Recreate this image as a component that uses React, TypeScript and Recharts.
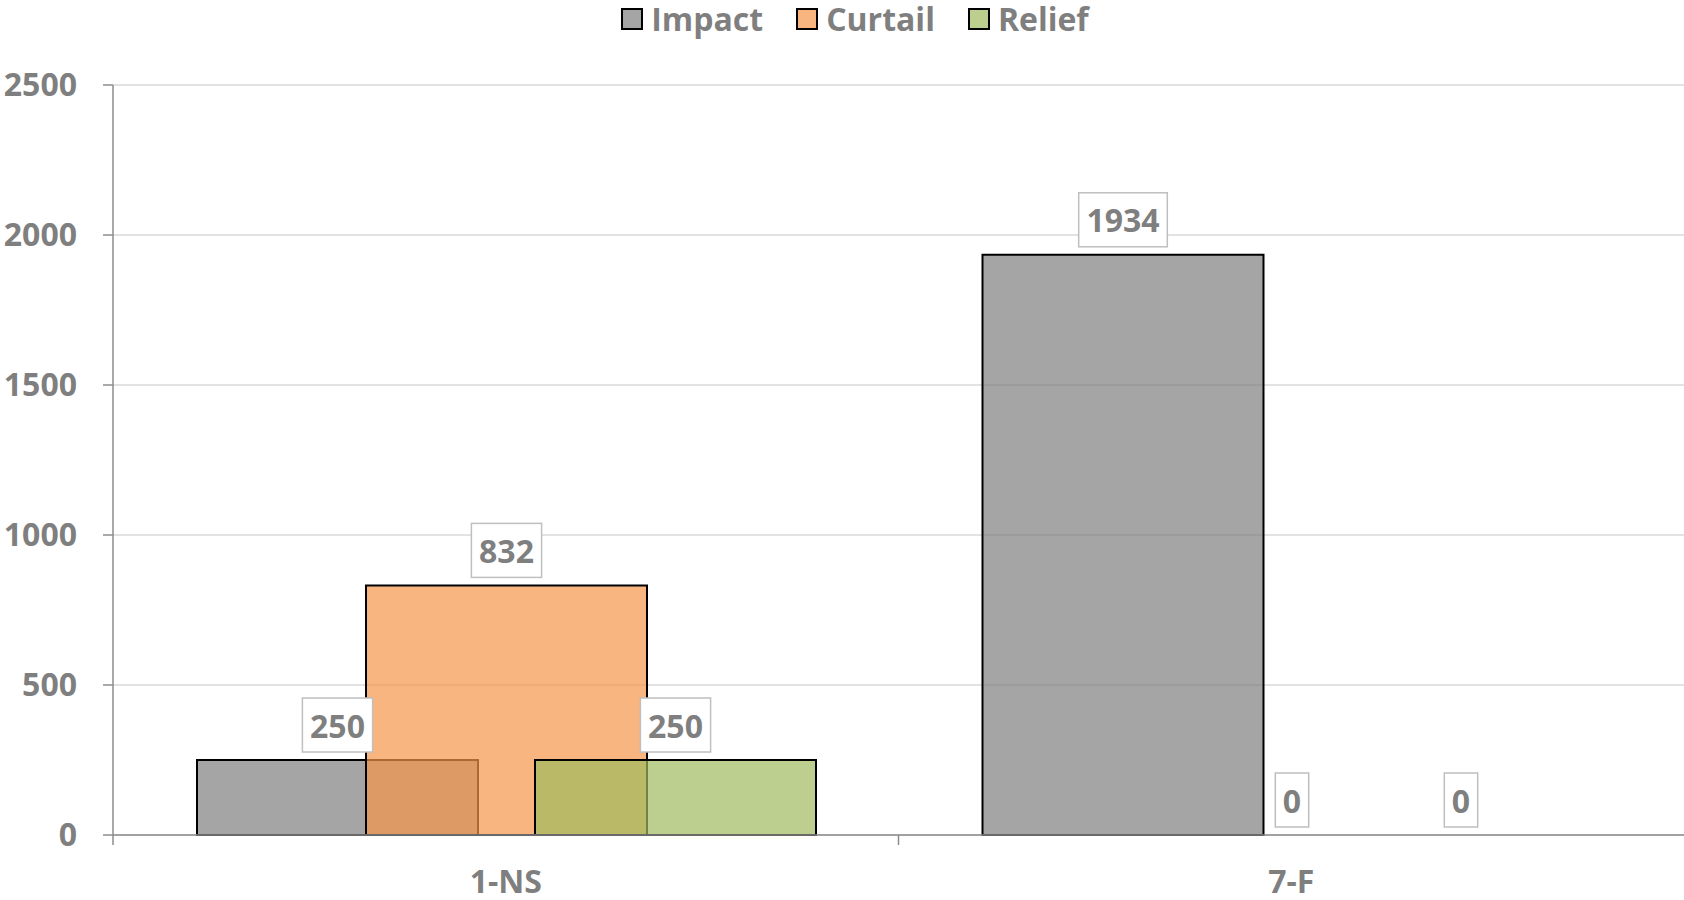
import { BarChart, Bar, XAxis, YAxis, CartesianGrid, Legend, LabelList, Rectangle } from "recharts";

const categories = ["1-NS", "7-F"];
const impactValues = [250, 1934];
const curtailValues = [832, 0];
const reliefValues = [250, 0];
const yTicks = [0, 500, 1000, 1500, 2000, 2500];

const data = categories.map((name, i) => ({
  name,
  Impact: impactValues[i],
  Curtail: curtailValues[i],
  Relief: reliefValues[i],
}));

const FONT = "'Open Sans', sans-serif";
const TEXT = "#7f7f7f";
const AXIS = "#8c8c8c";

const series = [
  { key: "Impact", color: "#7f7f7f" },
  { key: "Curtail", color: "#f59549" },
  { key: "Relief", color: "#9fba5e" },
];

const BoxLabel = (props: any) => {
  const { x, y, width, height, value } = props;
  const cx = Number(x) + Number(width) / 2;
  const text = String(value);
  const w = text.length * 18.4 + 15;
  const h = 54;
  // zero bars are drawn with a min size, so anchor their label on the baseline
  const top = Number(value) === 0 ? Number(y) + Number(height) : Number(y);
  const bottom = top - 8;
  return (
    <g>
      <rect x={cx - w / 2} y={bottom - h} width={w} height={h} fill="#fff" stroke="#bfbfbf" strokeWidth={1.5} />
      <text
        x={cx}
        y={bottom - h / 2}
        textAnchor="middle"
        dominantBaseline="central"
        fontFamily={FONT}
        fontWeight={700}
        fontSize={32}
        fill={TEXT}
      >
        {text}
      </text>
    </g>
  );
};

const BarShape = (props: any) => {
  if (!props.value) return null;
  return <Rectangle {...props} />;
};

const CategoryTick = (props: any) => {
  const { x, y, payload } = props;
  const half = payload.offset ?? 0;
  return (
    <g>
      <line x1={x - half} x2={x - half} y1={y} y2={y + 10} stroke={AXIS} strokeWidth={1.5} />
      <text
        x={x}
        y={y + 45}
        textAnchor="middle"
        dominantBaseline="central"
        fontFamily={FONT}
        fontWeight={700}
        fontSize={32}
        fill={TEXT}
      >
        {payload.value}
      </text>
    </g>
  );
};

const LegendContent = () => (
  <div
    style={{
      height: 36,
      display: "flex",
      justifyContent: "center",
      alignItems: "center",
      paddingLeft: 26,
      fontFamily: FONT,
      fontWeight: 700,
      fontSize: 32,
      lineHeight: "36px",
      color: TEXT,
    }}
  >
    {series.map((s, i) => (
      <div key={s.key} style={{ display: "flex", alignItems: "center", marginLeft: i === 0 ? 0 : 33 }}>
        <svg width={22} height={22} style={{ marginRight: 8 }}>
          <rect x={1} y={1} width={20} height={20} fill="#fff" />
          <rect x={1} y={1} width={20} height={20} fill={s.color} fillOpacity={0.7} stroke="#000" strokeWidth={2} />
        </svg>
        <span>{s.key}</span>
      </div>
    ))}
  </div>
);

export default function App() {
  return (
    <div style={{ position: "absolute", left: 0, top: 0 }}>
      <BarChart
        width={1684}
        height={900}
        data={data}
        margin={{ top: 49, right: 0, left: 0, bottom: 24 }}
        barCategoryGap={84}
        barGap={-112}
      >
        <CartesianGrid vertical={false} stroke="#d9d9d9" strokeWidth={1.5} />
        <XAxis
          dataKey="name"
          height={41}
          tickLine={false}
          tickSize={0}
          tickMargin={0}
          axisLine={{ stroke: AXIS, strokeWidth: 1.5 }}
          tick={<CategoryTick />}
        />
        <YAxis
          width={113}
          domain={[0, 2500]}
          ticks={yTicks}
          tickSize={10}
          tickMargin={26}
          axisLine={{ stroke: AXIS, strokeWidth: 1.5 }}
          tickLine={{ stroke: AXIS, strokeWidth: 1.5 }}
          tick={{ fontFamily: FONT, fontWeight: 700, fontSize: 32, fill: TEXT }}
        />
        <Legend verticalAlign="top" wrapperStyle={{ top: 1 }} content={<LegendContent />} />
        {series.map((s) => (
          <Bar
            key={s.key}
            dataKey={s.key}
            fill={s.color}
            fillOpacity={0.7}
            stroke="#000"
            strokeWidth={2}
            minPointSize={1}
            shape={<BarShape />}
            isAnimationActive={false}
          >
            <LabelList dataKey={s.key} content={<BoxLabel />} />
          </Bar>
        ))}
      </BarChart>
    </div>
  );
}
